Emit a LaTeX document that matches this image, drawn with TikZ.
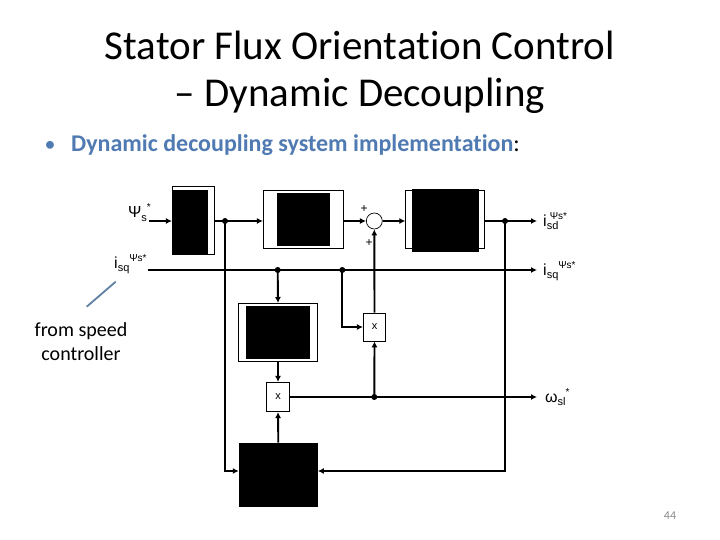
\documentclass[tikz,border=0pt]{standalone}
\usepackage{fontspec}
\setmainfont{Carlito}[Ligatures=NoCommon]
\newfontfamily\diag{Liberation Sans}
\usetikzlibrary{arrows.meta}
\definecolor{hdblue}{RGB}{79,122,178}
\definecolor{pointer}{RGB}{96,128,165}
\definecolor{pagegray}{RGB}{140,140,140}
\newcommand\dsub[1]{\raisebox{-3.5pt}{\fontsize{11}{11}\selectfont #1}}
\newcommand\dsup[1]{\raisebox{7pt}{\fontsize{10}{10}\selectfont #1}}
\newcommand\dsubl[1]{\rlap{\dsub{#1}}}
\begin{document}
\begin{tikzpicture}[x=1pt,y=-1pt,
  wire/.style={line width=1.9pt},
  sig/.style={wire,-{Latex[length=6pt,width=6pt]}},
  frame/.style={draw,line width=0.7pt,fill=white,inner sep=0pt},
  mult/.style={draw,line width=0.7pt,fill=white,inner sep=0pt,font=\diag\fontsize{11}{11}\selectfont},
  junction/.style={circle,fill,inner sep=0pt,minimum size=6pt},
  lab/.style={font=\diag\fontsize{16}{16}\selectfont,inner sep=0pt},
  plus/.style={font=\diag\fontsize{12}{12}\selectfont,inner sep=0pt}
]
\useasboundingbox[fill=white] (0,0) rectangle (720,540);

% title and bullet
\node[anchor=base,font=\fontsize{41}{41}\selectfont] (t1) at (360,60) {Stator Flux Orientation Control};
\node[anchor=base,font=\fontsize{41}{41}\selectfont] (t2) at (360,107) {– Dynamic Decoupling};
\node[anchor=base,text=hdblue,font=\fontsize{22}{22}\selectfont,inner sep=0pt] (bul) at (50,152) {•};
\node[anchor=base west,font=\fontsize{24}{24}\selectfont,inner sep=0pt] (btxt) at (71,152) {\textcolor{hdblue}{\bfseries Dynamic decoupling system implementation}:};

% blocks
\node[frame,minimum width=42pt,minimum height=68pt] (b1) at (193.3,220) {};
\fill (172.3,190) rectangle (207.7,254);
\node[frame,minimum width=80pt,minimum height=58pt] (b2) at (303.3,219.2) {};
\fill (276.7,193.3) rectangle (330,245.7);
\node[draw,circle,line width=0.7pt,minimum size=16pt,inner sep=0pt] (sum) at (374.3,221) {};
\node[frame,minimum width=78.6pt,minimum height=58pt] (b3) at (445,219) {};
\fill (411.7,189) rectangle (479,252.3);
\node[frame,minimum width=79.4pt,minimum height=57.7pt] (b4) at (278,332.2) {};
\fill (245.7,306) rectangle (310,359);
\node[mult,minimum width=22.4pt,minimum height=28pt] (m1) at (374.5,327) {x};
\node[mult,minimum width=23.4pt,minimum height=29.4pt] (m2) at (278,397) {x};
\node[draw,fill,minimum width=78.7pt,minimum height=63pt,inner sep=0pt] (b5) at (278.3,474.2) {};

% coordinates
\coordinate (psiin) at (149.3,221);
\coordinate (isqin) at (147.7,270);
\coordinate (isdout) at (537,221);
\coordinate (isqout) at (537,270);
\coordinate (wout) at (537,397);
\coordinate (fb) at (0,471);
\node[junction] (d1) at (225,221) {};
\node[junction] (d3) at (505,221) {};
\node[junction] (d4) at (277.7,270) {};
\node[junction] (d5) at (342.3,270) {};
\node[junction] (d6) at (374.3,397) {};

% wires
\draw[sig] (psiin) -- (psiin -| b1.west);
\draw[sig] (psiin -| b1.east) -- (psiin -| b2.west);
\draw[sig] (psiin -| b2.east) -- (sum.west);
\draw[sig] (sum.east) -- (psiin -| b3.west);
\draw[sig] (psiin -| b3.east) -- (isdout);
\draw[sig] (isqin) -- (isqout);
\draw[sig] (d1.center) |- (fb -| b5.west);
\draw[sig] (d3.center) |- (fb -| b5.east);
\draw[sig] (d4.center) -- (b4.north);
\draw[sig] (d5.center) |- (m1.west);
\draw[sig] (b4.south) -- (m2.north);
\draw[sig] (b5.north) -- (m2.south);
\draw[sig] (m2.east) -- (wout);
\draw[sig] (d6.center) -- (m1.south);
\draw[sig] (m1.north) -- (sum.south);

% signs
\node[plus] (p1) at (364,209) {+};
\node[plus] (p2) at (369,243) {+};

% labels
\node[lab,anchor=base east] (lpsi) at (151,218) {Ψ\dsub{s}\dsup{*}};
\node[lab,anchor=base west] (lisq) at (114,268) {i\dsub{sq}\dsup{Ψs*}};
\node[lab,anchor=base west] (risd) at (543,226) {i\dsubl{sd}\dsup{\hspace{3pt}Ψs*}};
\node[lab,anchor=base west] (risq) at (543,275) {i\dsub{sq}\dsup{Ψs*}};
\node[lab,anchor=base west] (rw) at (545,402) {ω\dsub{sl}\dsup{*}};

% from speed controller
\node[align=center,font=\fontsize{20}{24}\selectfont,inner sep=0pt,anchor=base] (fsc) at (81,360) {from speed\\controller};
\coordinate (ptrA) at (86.7,306.7);
\coordinate (ptrB) at (115.7,281.7);
\draw[pointer,line width=1.8pt] (ptrA) -- (ptrB);

% page number
\node[anchor=base,text=pagegray,font=\fontsize{12}{12}\selectfont,inner sep=0pt] (pg) at (670,519) {44};
\end{tikzpicture}
\end{document}
